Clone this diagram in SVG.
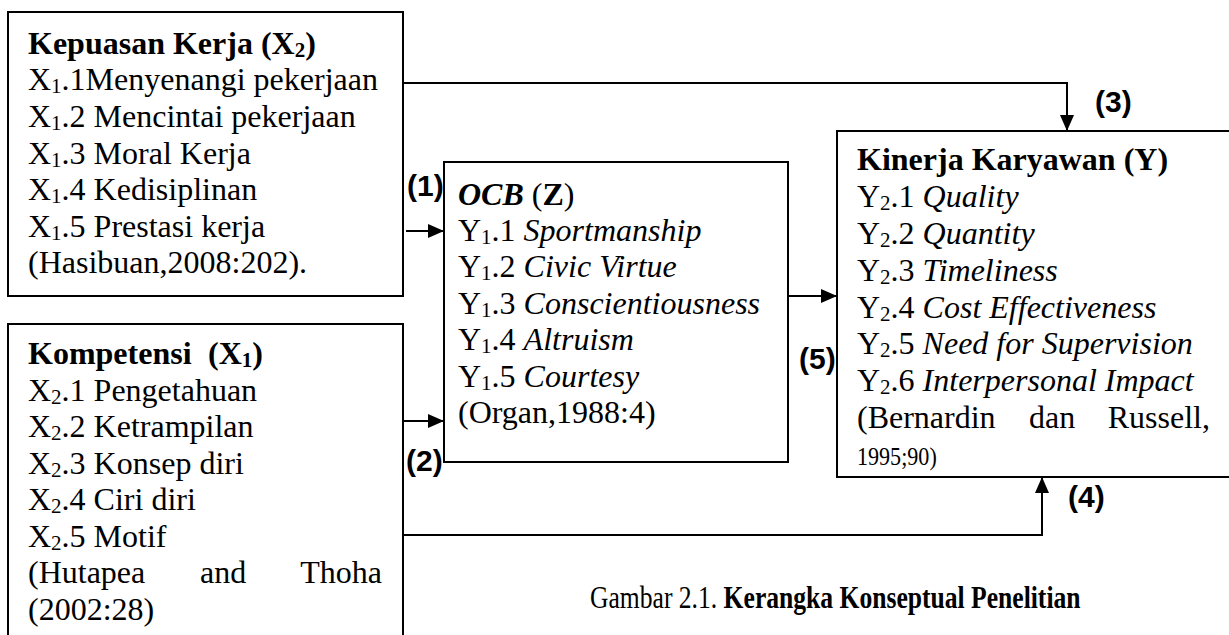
<svg xmlns="http://www.w3.org/2000/svg" width="1229" height="635" viewBox="0 0 1229 635">
  <style>
    .box { fill: #ffffff; stroke: #000000; stroke-width: 2; }
    .t { font-family: "Liberation Serif", "Times New Roman", serif; font-size: 32px; fill: #000000; }
    .b { font-weight: bold; }
    .i { font-style: italic; }
    .sub { font-size: 21px; }
    .lbl { font-family: "Liberation Sans", Arial, sans-serif; font-size: 30px; font-weight: bold; fill: #000000; }
    .cap { font-family: "Liberation Serif", "Times New Roman", serif; font-size: 32px; fill: #000000; }
    .wire { fill: none; stroke: #000000; stroke-width: 2; }
  </style>
  <defs>
    <marker id="arrow" markerUnits="userSpaceOnUse" markerWidth="16" markerHeight="14" refX="16" refY="7" orient="auto">
      <path d="M0,0 L16,7 L0,14 z" fill="#000000"/>
    </marker>
  </defs>

  <rect width="1229" height="635" fill="#ffffff"/>

  <!-- Job satisfaction -->
  <g id="node-kepuasan">
    <rect class="box" x="8" y="12" width="395" height="284"/>
    <text class="t" x="28" y="54"><tspan class="b">Kepuasan Kerja (X<tspan class="sub" dy="3">2</tspan><tspan dy="-3">)</tspan></tspan></text>
    <text class="t" x="28" y="90">X<tspan class="sub" dy="3">1</tspan><tspan dy="-3">.1Menyenangi pekerjaan</tspan></text>
    <text class="t" x="28" y="127">X<tspan class="sub" dy="3">1</tspan><tspan dy="-3">.2 Mencintai pekerjaan</tspan></text>
    <text class="t" x="28" y="163.5">X<tspan class="sub" dy="3">1</tspan><tspan dy="-3">.3 Moral Kerja</tspan></text>
    <text class="t" x="28" y="200">X<tspan class="sub" dy="3">1</tspan><tspan dy="-3">.4 Kedisiplinan</tspan></text>
    <text class="t" x="28" y="237">X<tspan class="sub" dy="3">1</tspan><tspan dy="-3">.5 Prestasi kerja</tspan></text>
    <text class="t" x="28" y="273">(Hasibuan,2008:202).</text>
  </g>

  <!-- Competence -->
  <g id="node-kompetensi">
    <rect class="box" x="8" y="324" width="395" height="330"/>
    <text class="t" x="28" y="364"><tspan class="b">Kompetensi</tspan><tspan class="b" x="208">(X<tspan class="sub" dy="3">1</tspan><tspan dy="-3">)</tspan></tspan></text>
    <text class="t" x="28" y="400.5">X<tspan class="sub" dy="3">2</tspan><tspan dy="-3">.1 Pengetahuan</tspan></text>
    <text class="t" x="28" y="437">X<tspan class="sub" dy="3">2</tspan><tspan dy="-3">.2 Ketrampilan</tspan></text>
    <text class="t" x="28" y="473.5">X<tspan class="sub" dy="3">2</tspan><tspan dy="-3">.3 Konsep diri</tspan></text>
    <text class="t" x="28" y="510">X<tspan class="sub" dy="3">2</tspan><tspan dy="-3">.4 Ciri diri</tspan></text>
    <text class="t" x="28" y="546.5">X<tspan class="sub" dy="3">2</tspan><tspan dy="-3">.5 Motif</tspan></text>
    <text class="t" x="28" y="583">(Hutapea</text>
    <text class="t" x="200" y="583">and</text>
    <text class="t" x="382" y="583" text-anchor="end">Thoha</text>
    <text class="t" x="28" y="619.5">(2002:28)</text>
  </g>

  <!-- OCB -->
  <g id="node-ocb">
    <rect class="box" x="444" y="162" width="344" height="300"/>
    <text class="t" x="458" y="204.6"><tspan class="b i">OCB</tspan> (<tspan class="b">Z</tspan>)</text>
    <text class="t" x="458" y="241">Y<tspan class="sub" dy="3">1</tspan><tspan dy="-3">.1 </tspan><tspan class="i">Sportmanship</tspan></text>
    <text class="t" x="458" y="277.4">Y<tspan class="sub" dy="3">1</tspan><tspan dy="-3">.2 </tspan><tspan class="i">Civic Virtue</tspan></text>
    <text class="t" x="458" y="313.8">Y<tspan class="sub" dy="3">1</tspan><tspan dy="-3">.3 </tspan><tspan class="i">Conscientiousness</tspan></text>
    <text class="t" x="458" y="350.2">Y<tspan class="sub" dy="3">1</tspan><tspan dy="-3">.4 </tspan><tspan class="i">Altruism</tspan></text>
    <text class="t" x="458" y="386.6">Y<tspan class="sub" dy="3">1</tspan><tspan dy="-3">.5 </tspan><tspan class="i">Courtesy</tspan></text>
    <text class="t" x="458" y="423">(Organ,1988:4)</text>
  </g>

  <!-- Employee performance -->
  <g id="node-kinerja">
    <rect class="box" x="837" y="131" width="420" height="346"/>
    <text class="t" x="857" y="170"><tspan class="b">Kinerja Karyawan (Y)</tspan></text>
    <text class="t" x="857" y="207.3">Y<tspan class="sub" dy="3">2</tspan><tspan dy="-3">.1 </tspan><tspan class="i">Quality</tspan></text>
    <text class="t" x="857" y="244">Y<tspan class="sub" dy="3">2</tspan><tspan dy="-3">.2 </tspan><tspan class="i">Quantity</tspan></text>
    <text class="t" x="857" y="280.8">Y<tspan class="sub" dy="3">2</tspan><tspan dy="-3">.3 </tspan><tspan class="i">Timeliness</tspan></text>
    <text class="t" x="857" y="317.6">Y<tspan class="sub" dy="3">2</tspan><tspan dy="-3">.4 </tspan><tspan class="i">Cost Effectiveness</tspan></text>
    <text class="t" x="857" y="354.4">Y<tspan class="sub" dy="3">2</tspan><tspan dy="-3">.5 </tspan><tspan class="i">Need for Supervision</tspan></text>
    <text class="t" x="857" y="391.2">Y<tspan class="sub" dy="3">2</tspan><tspan dy="-3">.6 </tspan><tspan class="i">Interpersonal Impact</tspan></text>
    <text class="t" x="857" y="428">(Bernardin</text>
    <text class="t" x="1029" y="428">dan</text>
    <text class="t" x="1210" y="428" text-anchor="end">Russell,</text>
    <text class="t" transform="translate(857,465) scale(0.85,1)" style="font-size:26px">1995;90)</text>
  </g>

  <!-- Paths between variables -->
  <g id="connectors">
    <polyline class="wire" points="403,83 1067,83 1067,131" marker-end="url(#arrow)"/>
    <line class="wire" x1="406" y1="231" x2="444" y2="231" marker-end="url(#arrow)"/>
    <line class="wire" x1="403" y1="421" x2="444" y2="421" marker-end="url(#arrow)"/>
    <line class="wire" x1="788" y1="296" x2="837" y2="296" marker-end="url(#arrow)"/>
    <polyline class="wire" points="403,535 1042,535 1042,477" marker-end="url(#arrow)"/>
  </g>

  <g id="labels">
    <text class="lbl" x="407" y="196">(1)</text>
    <text class="lbl" x="406" y="471">(2)</text>
    <text class="lbl" x="1095" y="112">(3)</text>
    <text class="lbl" x="1068" y="507">(4)</text>
    <text class="lbl" x="799" y="369">(5)</text>
  </g>

  <text class="cap" transform="translate(590,608) scale(0.8,1)">Gambar 2.1. <tspan class="b">Kerangka Konseptual Penelitian</tspan></text>
</svg>
